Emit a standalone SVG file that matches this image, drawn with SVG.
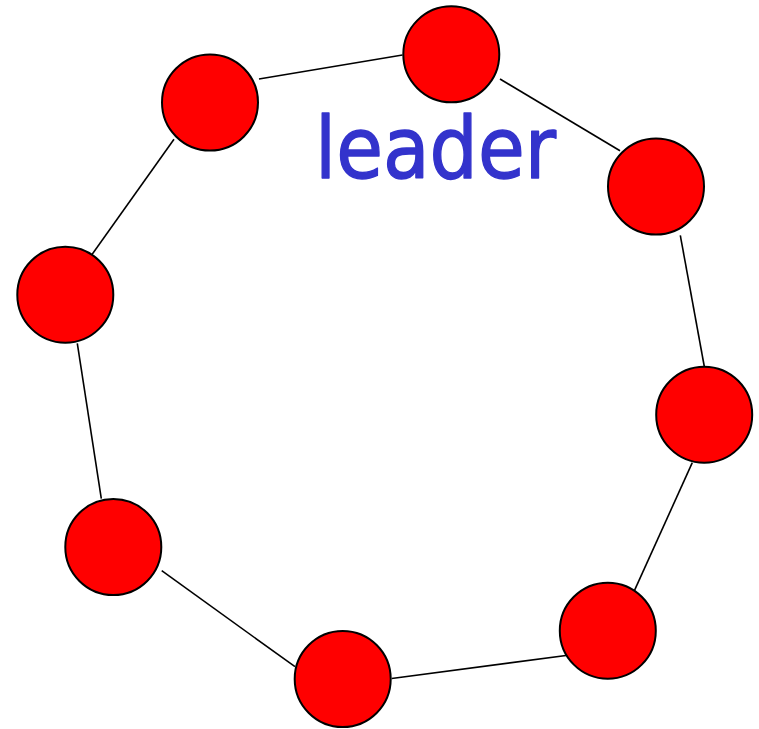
<svg xmlns="http://www.w3.org/2000/svg" width="759" height="729" viewBox="0 0 759 729">
<style>
.node{fill:#ff0000;stroke:#000;stroke-width:2}
.edge{stroke:#000;stroke-width:1.6;fill:none}
.label{font-family:"Comic Sans MS","DejaVu Sans",sans-serif;fill:#3333cc;stroke:#3333cc;stroke-width:1.5;stroke-linejoin:round}
</style>
<rect width="759" height="729" fill="#fff"/>
<g id="connectors">
<line class="edge" x1="259" y1="79" x2="402.5" y2="55"/>
<line class="edge" x1="500" y1="79" x2="620" y2="150.7"/>
<line class="edge" x1="680.3" y1="235.3" x2="704.3" y2="366.5"/>
<line class="edge" x1="692.3" y1="462.7" x2="632.7" y2="594.3"/>
<line class="edge" x1="391.7" y1="678.5" x2="571.7" y2="654.7"/>
<line class="edge" x1="161.7" y1="570.7" x2="295" y2="666.7"/>
<line class="edge" x1="77.3" y1="343.3" x2="101.3" y2="498.7"/>
<line class="edge" x1="174" y1="139.3" x2="89.3" y2="258.3"/>
</g>
<g id="n1"><circle class="node" cx="210" cy="102.5" r="48"/></g>
<g id="n2"><circle class="node" cx="451.3" cy="54.3" r="48"/></g>
<g id="n3"><circle class="node" cx="656" cy="186.5" r="48"/></g>
<g id="n4"><circle class="node" cx="704.2" cy="414.7" r="48"/></g>
<g id="n5"><circle class="node" cx="607.8" cy="630.7" r="48"/></g>
<g id="n6"><circle class="node" cx="342.7" cy="679" r="48"/></g>
<g id="n7"><circle class="node" cx="113.3" cy="547" r="48"/></g>
<g id="n8"><circle class="node" cx="65.3" cy="294.7" r="48"/></g>
<g id="leader"><text class="label" x="315" y="178" font-size="86" textLength="241" lengthAdjust="spacingAndGlyphs">leader</text></g>
</svg>
